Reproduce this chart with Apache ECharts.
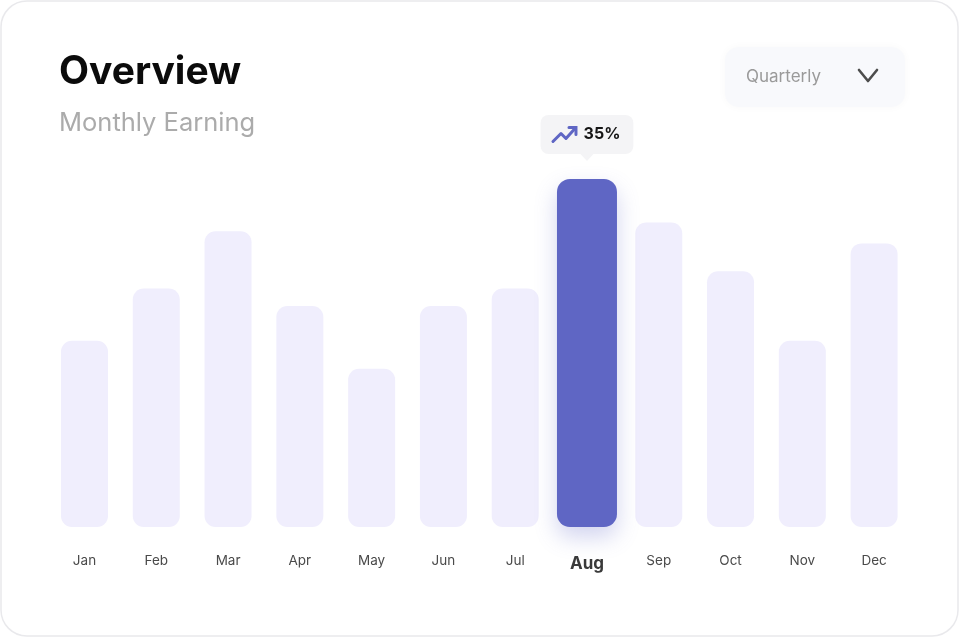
<!DOCTYPE html>
<html>
<head>
<meta charset="utf-8">
<script src="https://cdn.jsdelivr.net/npm/echarts@6/dist/echarts.min.js"></script>
<style>
  html, body { margin: 0; padding: 0; background: #ffffff; }
  #chart { width: 960px; height: 638px; }
</style>
</head>
<body>
<div id="chart"></div>
<script>
// monthly earnings (relative, Aug = peak)
const months = ['Jan', 'Feb', 'Mar', 'Apr', 'May', 'Jun', 'Jul', 'Aug', 'Sep', 'Oct', 'Nov', 'Dec'];
const earnings = [53.5, 68.5, 85, 63.5, 45.5, 63.5, 68.5, 100, 87.5, 73.5, 53.5, 81.5];
const highlightMonth = 'Aug';
const growthText = '35%';
const periodLabel = 'Quarterly';

const FONT = 'Inter, "Noto Sans", sans-serif';
const hiIndex = months.indexOf(highlightMonth);

const chart = echarts.init(document.getElementById('chart'));

const option = {
  backgroundColor: '#ffffff',
  animation: false,
  title: {
    text: 'Overview',
    subtext: 'Monthly Earning',
    left: 54,
    top: 48,
    itemGap: 18,
    textStyle: { fontFamily: FONT, fontSize: 39, fontWeight: 'bold', color: '#0b0b0b' },
    subtextStyle: { fontFamily: FONT, fontSize: 25.5, color: '#ababab' }
  },
  grid: { left: 48.6, right: 50, top: 179, bottom: 111 },
  xAxis: [
    {
      type: 'category',
      data: months,
      axisLine: { show: false },
      axisTick: { show: false },
      axisLabel: {
        margin: 27,
        color: '#4a4a4a',
        fontFamily: FONT,
        fontSize: 13.5,
        formatter: function (v) {
          return v === highlightMonth ? '{hi|' + v + '}' : v;
        },
        rich: {
          hi: { fontFamily: FONT, fontSize: 17, fontWeight: 'bold', color: '#3a3a3a', padding: [1, 0, 0, 0] }
        }
      }
    },
    {
      type: 'category',
      data: months,
      show: false
    }
  ],
  yAxis: { type: 'value', min: 0, max: 100, show: false },
  series: [
    {
      name: 'Earning',
      type: 'bar',
      xAxisIndex: 0,
      barWidth: 47,
      data: earnings.map((v, i) => (i === hiIndex ? '-' : v)),
      itemStyle: { color: '#f0eefd', borderRadius: 11 },
      silent: true
    },
    {
      name: 'Highlight',
      type: 'bar',
      xAxisIndex: 1,
      barWidth: 60,
      data: earnings.map((v, i) => (i === hiIndex ? v : '-')),
      itemStyle: {
        color: '#5f66c4',
        borderRadius: 13,
        shadowColor: 'rgba(95, 102, 196, 0.28)',
        shadowBlur: 22,
        shadowOffsetY: 10
      },
      label: {
        show: true,
        position: 'top',
        distance: 25,
        formatter: growthText,
        fontFamily: FONT,
        fontSize: 16,
        fontWeight: 'bold',
        color: '#151515',
        backgroundColor: '#f4f4f6',
        borderRadius: 8,
        padding: [11, 13, 11, 43],
        lineHeight: 17
      },
      silent: true
    }
  ],
  graphic: []
};

chart.setOption(option);

// decorations: card border, dropdown, trend icon and label pointer
const barTop = chart.convertToPixel({ xAxisIndex: 1, yAxisIndex: 0 }, [highlightMonth, earnings[hiIndex]]);
const cx = barTop[0];
const boxBottom = barTop[1] - 25;
const boxTop = boxBottom - 39;
const boxLeft = cx - 46;
const iconY = (boxTop + boxBottom) / 2;

chart.setOption({
  graphic: [
    {
      type: 'rect',
      z: -10,
      shape: { x: 1, y: 1, width: 957, height: 635, r: 26 },
      style: { fill: '#ffffff', stroke: '#e9e9ec', lineWidth: 1.5 }
    },
    {
      type: 'rect',
      shape: { x: 725, y: 47, width: 180, height: 60, r: 14 },
      style: { fill: '#f8f9fc', shadowColor: 'rgba(0,0,0,0.03)', shadowBlur: 8 }
    },
    {
      type: 'text',
      x: 746,
      y: 77,
      style: {
        text: periodLabel,
        fontFamily: FONT,
        fontSize: 17,
        fill: '#9a9a9a',
        verticalAlign: 'middle'
      }
    },
    {
      type: 'polyline',
      shape: { points: [[859, 70], [868, 81], [877, 70]] },
      style: { stroke: '#4d4d4d', lineWidth: 2.6, fill: null, lineCap: 'round', lineJoin: 'round' }
    },
    {
      type: 'polygon',
      z: 100,
      shape: { points: [[cx - 7, boxBottom - 0.5], [cx + 7, boxBottom - 0.5], [cx, boxBottom + 7]] },
      style: { fill: '#f4f4f6' }
    },
    {
      type: 'polyline',
      z: 100,
      shape: {
        points: [
          [boxLeft + 12, iconY + 7],
          [boxLeft + 20, iconY - 1],
          [boxLeft + 25, iconY + 4],
          [boxLeft + 34, iconY - 6]
        ]
      },
      style: { stroke: '#5f66c4', lineWidth: 3, fill: null, lineJoin: 'round', lineCap: 'round' }
    },
    {
      type: 'polyline',
      z: 100,
      shape: {
        points: [
          [boxLeft + 28, iconY - 7],
          [boxLeft + 35, iconY - 7],
          [boxLeft + 35, iconY]
        ]
      },
      style: { stroke: '#5f66c4', lineWidth: 3, fill: null, lineJoin: 'miter', lineCap: 'round' }
    }
  ]
});
</script>
</body>
</html>
